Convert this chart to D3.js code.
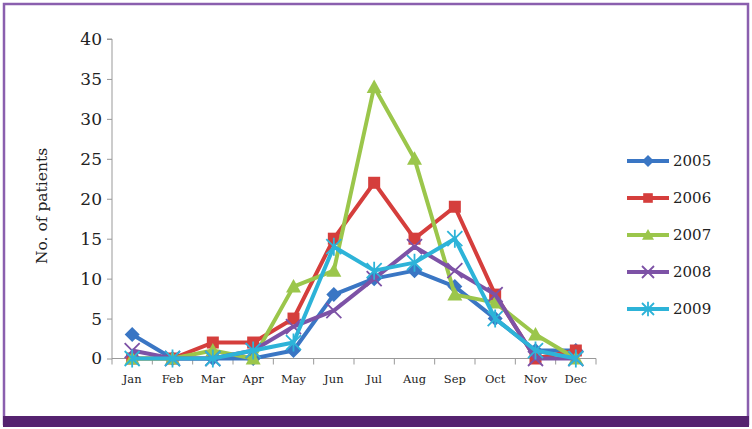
<!DOCTYPE html>
<html>
<head>
<meta charset="utf-8">
<script src="https://cdn.jsdelivr.net/npm/d3@7"></script>
<style>
  body { margin: 0; background: #fff; }
  svg { display: block; }
  text { font-family: "DejaVu Serif", serif; fill: #222; }
</style>
</head>
<body>
<div id="chart"></div>
<script>
const months = ['Jan', 'Feb', 'Mar', 'Apr', 'May', 'Jun', 'Jul', 'Aug', 'Sep', 'Oct', 'Nov', 'Dec'];
const years = ['2005', '2006', '2007', '2008', '2009'];
const yTicks = [0, 5, 10, 15, 20, 25, 30, 35, 40];

const y2005 = [3, 0, 0, 0, 1, 8, 10, 11, 9, 5, 1, 1];
const y2006 = [0, 0, 2, 2, 5, 15, 22, 15, 19, 8, 0, 1];
const y2007 = [0, 0, 1, 0, 9, 11, 34, 25, 8, 7, 3, 0];
const y2008 = [1, 0, 0, 1, 4, 6, 10, 14, 11, 8, 0, 0];
const y2009 = [0, 0, 0, 1, 2, 14, 11, 12, 15, 5, 1, 0];

const colors = ['#3a76c4', '#d53e3c', '#9bc64b', '#7d52a6', '#2db3d8'];
const symbols = ['diamond', 'square', 'triangle', 'cross', 'asterisk'];

const series = years.map((yr, i) => ({
  name: yr,
  values: [y2005, y2006, y2007, y2008, y2009][i],
  color: colors[i],
  symbol: symbols[i],
}));

const W = 752, H = 429;
const svg = d3.select('#chart').append('svg')
  .attr('width', W)
  .attr('height', H);

// frame
svg.append('rect')
  .attr('x', 4).attr('y', 4)
  .attr('width', 744).attr('height', 420)
  .attr('fill', '#fff')
  .attr('stroke', '#8a5fae')
  .attr('stroke-width', 2.5);
svg.append('rect')
  .attr('x', 3).attr('y', 416)
  .attr('width', 746).attr('height', 11)
  .attr('fill', '#55226f');

const x = d3.scaleBand().domain(months).range([112, 596]);
const y = d3.scaleLinear().domain([0, 40]).range([358.5, 39]);

// y axis
const yAxis = svg.append('g')
  .attr('transform', 'translate(112,0)')
  .call(d3.axisLeft(y).tickValues(yTicks).tickSize(5).tickPadding(5));
yAxis.attr('font-family', null);
yAxis.select('.domain').attr('stroke', '#999').attr('d', `M-5,${y(40)}H0V${y(0)}`);
yAxis.selectAll('.tick line').attr('stroke', '#999');
yAxis.selectAll('.tick text')
  .style('font-size', '17px')
  .attr('fill', '#222');

// x axis
const xAxis = svg.append('g')
  .attr('transform', `translate(0,${y(0)})`)
  .call(d3.axisBottom(x).tickSize(0).tickPadding(16));
xAxis.attr('font-family', null);
xAxis.select('.domain').attr('stroke', '#999').attr('d', `M112,0H596`);
xAxis.selectAll('.tick text').style('font-size', '11.5px').attr('fill', '#222');
svg.append('g')
  .selectAll('line')
  .data(months.concat(['end']))
  .enter()
  .append('line')
  .attr('x1', (d, i) => 112 + i * x.step())
  .attr('x2', (d, i) => 112 + i * x.step())
  .attr('y1', y(0))
  .attr('y2', y(0) + 6)
  .attr('stroke', '#999');

// y title
svg.append('text')
  .attr('transform', 'translate(47,206) rotate(-90)')
  .attr('text-anchor', 'middle')
  .style('font-size', '15.5px')
  .text('No. of patients');

const cx = m => x(m) + x.bandwidth() / 2;

function marker(g, type, color, size) {
  const s = size;
  if (type === 'diamond') {
    g.append('path').attr('d', `M0,${-s}L${s},0L0,${s}L${-s},0Z`).attr('fill', color);
  } else if (type === 'square') {
    g.append('rect').attr('x', -s * 0.8).attr('y', -s * 0.8)
      .attr('width', s * 1.6).attr('height', s * 1.6).attr('fill', color);
  } else if (type === 'triangle') {
    g.append('path').attr('d', `M0,${-s}L${s},${s * 0.8}L${-s},${s * 0.8}Z`).attr('fill', color);
  } else if (type === 'cross') {
    g.append('path').attr('d', `M${-s},${-s}L${s},${s}M${s},${-s}L${-s},${s}`)
      .attr('stroke', color).attr('stroke-width', 1.8);
  } else {
    g.append('path')
      .attr('d', `M${-s},${-s}L${s},${s}M${s},${-s}L${-s},${s}M0,${-s * 1.2}V${s * 1.2}`)
      .attr('stroke', color).attr('stroke-width', 1.8);
  }
}

const line = d3.line()
  .x((d, i) => cx(months[i]))
  .y(d => y(d));

series.forEach(s => {
  svg.append('path')
    .datum(s.values)
    .attr('fill', 'none')
    .attr('stroke', s.color)
    .attr('stroke-width', 4)
    .attr('stroke-linejoin', 'round')
    .attr('d', line);
  s.values.forEach((v, i) => {
    const g = svg.append('g').attr('transform', `translate(${cx(months[i])},${y(v)})`);
    marker(g, s.symbol, s.color, 7.5);
  });
});

// legend
const legend = svg.append('g');
series.forEach((s, i) => {
  const ly = 161 + i * 37;
  const g = legend.append('g').attr('transform', `translate(627,${ly})`);
  g.append('line')
    .attr('x1', 0).attr('x2', 42)
    .attr('stroke', s.color).attr('stroke-width', 4);
  marker(g.append('g').attr('transform', 'translate(21,0)'), s.symbol, s.color, 6);
  g.append('text')
    .attr('x', 46).attr('y', 5)
    .style('font-size', '15px')
    .text(s.name);
});
</script>
</body>
</html>
